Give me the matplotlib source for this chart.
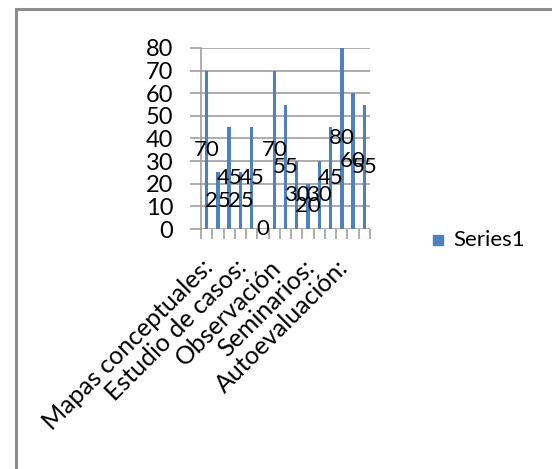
import matplotlib
matplotlib.use("Agg")
import matplotlib.pyplot as plt
from matplotlib.lines import Line2D
from matplotlib.patches import Rectangle

plt.rcParams['font.family'] = ['Lato', 'DejaVu Sans']

# Data
categories = ["Mapas conceptuales:", "", "", "Estudio de casos:", "", "",
              "Observación", "", "", "Seminarios:", "", "",
              "Autoevaluación:", "", ""]
values = [70, 25, 45, 25, 45, 0, 70, 55, 30, 20, 30, 45, 80, 60, 55]
yticks = [0, 10, 20, 30, 40, 50, 60, 70, 80]
series_name = "Series1"

W, H = 552, 469
fig = plt.figure(figsize=(W / 100, H / 100), dpi=100)
fig.patch.set_facecolor("white")

ax_left, ax_right = 201 / W, 370 / W
ax_bottom, ax_top = (H - 229) / H, (H - 48) / H
ax = fig.add_axes([ax_left, ax_bottom, ax_right - ax_left, ax_top - ax_bottom])

bar_color = "#4F81BD"
x = list(range(len(values)))
ax.bar(x, values, width=0.3, color=bar_color, zorder=3)

ax.set_xlim(-0.5, len(values) - 0.5)
ax.set_ylim(0, 80)
ax.set_yticks(yticks)
ax.set_yticklabels([str(v) for v in yticks], fontsize=17)

grid_c = "#A0A0A0"
for v in yticks:
    ax.axhline(v, color=grid_c, lw=1.2, zorder=1)

# x ticks at category boundaries
ax.set_xticks([i - 0.5 for i in range(len(values) + 1)], minor=False)
ax.set_xticklabels([])
ax.tick_params(axis='x', direction='out', length=7, color=grid_c, width=1.2)
ax.tick_params(axis='y', direction='out', length=8, color=grid_c, width=1.2, pad=12)

for s in ['top', 'right', 'bottom']:
    ax.spines[s].set_visible(False)
ax.spines['left'].set_color(grid_c)
ax.spines['left'].set_linewidth(1.2)

# category labels (every third shown)
for i, lab in enumerate(categories):
    if lab:
        ax.annotate(lab, xy=(i, 0), xycoords='data', xytext=(2, -25),
                    textcoords='offset points', rotation=45, ha='right', va='center',
                    rotation_mode='anchor', fontsize=18, color='black')

# data labels centered in bars
for i, v in enumerate(values):
    ax.text(i, v / 2, str(v), ha='center', va='center', fontsize=16,
            color='black', zorder=5, clip_on=False)

# legend
fig.patches.append(Rectangle((433 / W, (H - 245) / H), 10 / W, 10 / H,
                             transform=fig.transFigure, color=bar_color))
fig.text(453 / W, (H - 240) / H, series_name, fontsize=16, va='center', ha='left')

# chart border (top and left visible)
fig.add_artist(Line2D([15.5 / W, 1], [(H - 9) / H, (H - 9) / H], color="#8C8C8C", lw=2.2,
                      transform=fig.transFigure))
fig.add_artist(Line2D([15.5 / W, 15.5 / W], [0, (H - 9) / H], color="#8C8C8C", lw=2.2,
                      transform=fig.transFigure))

fig.savefig("out.png", dpi=100)
